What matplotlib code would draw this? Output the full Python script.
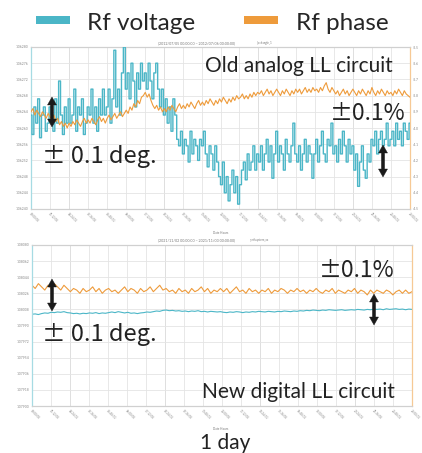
import numpy as np
import matplotlib
matplotlib.use("Agg")
import matplotlib.pyplot as plt
from matplotlib.patches import Rectangle, Polygon

plt.rcParams['font.family'] = ['Lato', 'DejaVu Sans']

W, H = 422, 453
CYAN = '#4bb6c7'
ORANGE = '#ee9b3b'

# ---------------- data (grid units, 0 = bottom gridline, 10 = top) ----------------
series_names = ['Rf voltage', 'Rf phase']

old_voltage = [
    5.8, 4.6, 6.3, 5.3, 6.8, 4.4, 5.8, 6.3, 4.8, 5.3,
    6.3, 5.8, 4.8, 6.8, 5.3, 7.9, 5.8, 4.6, 6.3, 5.3,
    6.8, 5.3, 5.8, 7.4, 4.8, 6.3, 5.8, 6.8, 4.6, 5.3,
    6.3, 5.8, 7.4, 5.3, 6.3, 4.8, 6.8, 5.8, 7.4, 5.8,
    6.3, 7.4, 5.3, 6.8, 9.8, 6.3, 7.4, 5.8, 8.4, 10.0,
    7.4, 8.4, 6.8, 9.0, 7.9, 6.3, 8.4, 7.4, 9.0, 7.9,
    8.4, 7.4, 9.0, 7.9, 6.8, 8.4, 9.0, 7.4, 6.3, 7.4,
    5.8, 6.8, 5.3, 6.3, 4.8, 6.8, 5.8, 4.3, 3.9, 4.8,
    3.4, 4.3, 3.9, 2.9, 4.8, 3.4, 4.3, 3.9, 3.0, 4.3,
    3.9, 4.8, 3.4, 2.6, 3.9, 3.4, 2.4, 3.9, 2.9, 2.0,
    1.5, 2.9, 1.0, 2.0, 0.5, 1.5, 2.4, 1.0, 2.0, 0.3,
    1.5, 2.4, 2.9, 1.8, 3.4, 2.4, 2.9, 3.9, 2.4, 3.4,
    2.9, 3.9, 2.4, 3.4, 4.3, 2.9, 3.9, 1.9, 3.4, 4.8,
    2.9, 3.9, 3.4, 2.4, 4.3, 3.4, 2.9, 3.9, 5.3, 3.4,
    2.9, 3.9, 2.4, 3.4, 4.3, 2.9, 3.9, 3.4, 1.9, 3.4,
    4.3, 2.9, 3.9, 4.8, 3.4, 2.9, 4.3, 3.9, 5.3, 3.4,
    3.9, 2.9, 4.3, 3.4, 4.8, 3.9, 2.9, 4.3, 3.4, 3.9,
    2.4, 3.4, 1.4, 2.9, 3.9, 2.4, 1.9, 3.4, 2.9, 4.3,
    3.9, 4.8, 3.4, 4.3, 4.8, 3.9, 4.3, 5.3, 3.9, 4.3,
    4.8, 3.9, 5.3, 4.3, 4.8, 3.9, 5.3, 4.8, 4.3, 5.3,
]

old_phase = [
    6.0, 6.2, 5.8, 6.1, 5.9, 5.7, 6.0, 5.8, 5.6, 5.9,
    5.7, 5.5, 5.8, 5.4, 5.6, 5.2, 5.4, 5.1, 5.3, 5.0,
    5.3, 5.1, 5.4, 5.2, 5.5, 5.3, 5.1, 5.4, 5.6, 5.3,
    5.5, 5.3, 5.6, 5.4, 5.2, 5.5, 5.7, 5.4, 5.6, 5.3,
    5.6, 5.8, 5.5, 5.7, 5.9, 5.6, 5.8, 6.0, 5.7, 5.9,
    6.1, 5.9, 6.3, 6.1, 6.5, 6.3, 6.7, 6.5, 6.9, 7.0,
    7.2, 6.9, 7.1, 6.7, 6.4, 6.2, 6.4, 6.1, 6.3, 6.0,
    6.2, 6.0, 6.3, 6.1, 6.4, 6.2, 6.0, 6.3, 6.5, 6.2,
    6.4, 6.2, 6.5, 6.3, 6.6, 6.4, 6.2, 6.5, 6.7, 6.4,
    6.6, 6.4, 6.7, 6.5, 6.8, 6.6, 6.4, 6.7, 6.5, 6.8,
    6.6, 6.9, 6.7, 6.5, 6.8, 6.6, 6.9, 6.7, 7.0, 6.8,
    6.9, 7.1, 6.8, 7.0, 6.8, 7.1, 6.9, 7.2, 7.0, 7.2,
    7.1, 7.3, 7.0, 7.2, 7.4, 7.1, 7.3, 7.0, 7.2, 7.4,
    7.2, 7.0, 7.3, 7.1, 7.4, 7.2, 7.0, 7.3, 7.1, 7.4,
    7.2, 7.4, 7.1, 7.3, 7.5, 7.2, 7.4, 7.2, 7.5, 7.3,
    7.4, 7.2, 7.5, 7.3, 7.6, 7.8, 7.4, 7.2, 7.5, 7.3,
    7.1, 7.3, 7.0, 7.2, 7.4, 7.1, 7.3, 7.0, 7.2, 7.4,
    7.2, 7.0, 7.3, 7.1, 7.4, 7.2, 7.0, 7.3, 7.1, 7.5,
    7.2, 7.0, 7.3, 7.1, 7.4, 7.2, 7.0, 7.3, 7.1, 7.2,
    7.0, 7.3, 7.1, 7.4, 7.2, 7.0, 7.3, 7.1, 7.0, 6.9,
]

new_phase = [
    7.5, 7.3, 7.6, 7.4, 7.2, 7.5, 7.3, 7.6, 7.4, 7.2, 7.5, 7.3,
    7.1, 7.3, 7.2, 7.0, 7.3, 7.1, 7.2, 7.4, 7.1, 7.3, 7.0, 7.2,
    7.3, 7.1, 7.2, 7.0, 7.2, 7.4, 7.1, 7.3, 7.2, 7.0, 7.3, 7.1,
    7.2, 7.4, 7.1, 7.3, 7.5, 7.2, 7.3, 7.1, 7.2, 7.0, 7.3, 7.1,
    7.2, 7.0, 7.3, 7.1, 7.2, 7.4, 7.1, 7.3, 7.0, 7.2, 7.1, 7.3,
    7.1, 7.3, 7.0, 7.2, 7.4, 7.1, 7.2, 7.0, 7.3, 7.1, 7.2, 7.0,
    7.2, 7.1, 7.3, 7.0, 7.2, 7.1, 7.3, 7.2, 7.0, 7.2, 7.1, 7.3,
    7.1, 7.2, 7.0, 7.2, 7.1, 7.3, 7.1, 7.0, 7.2, 7.1, 7.3, 7.0,
    7.2, 7.1, 7.0, 7.2, 7.1, 7.3, 7.0, 7.2, 7.1, 6.9, 7.2, 7.0,
    7.2, 7.1, 7.0, 7.2, 7.1, 6.9, 7.1, 7.2, 7.0, 7.2, 7.0, 7.1,
]

new_voltage = [
    5.70, 5.72, 5.68, 5.74, 5.78, 5.76, 5.82, 5.80, 5.84, 5.82, 5.86, 5.80,
    5.78, 5.74, 5.76, 5.72, 5.76, 5.74, 5.78, 5.76, 5.80, 5.74, 5.78, 5.76,
    5.80, 5.84, 5.80, 5.86, 5.82, 5.78, 5.82, 5.76, 5.78, 5.74, 5.78, 5.80,
    5.84, 5.82, 5.86, 5.90, 5.88, 5.94, 5.96, 5.92, 5.94, 5.90, 5.92, 5.88,
    5.90, 5.86, 5.90, 5.88, 5.92, 5.86, 5.88, 5.84, 5.88, 5.86, 5.84, 5.86,
    5.82, 5.80, 5.84, 5.82, 5.86, 5.84, 5.80, 5.84, 5.82, 5.86, 5.84, 5.88,
    5.86, 5.84, 5.88, 5.86, 5.84, 5.88, 5.86, 5.90, 5.88, 5.86, 5.90, 5.88,
    5.92, 5.90, 5.94, 5.92, 5.96, 5.94, 5.92, 5.96, 5.94, 5.98, 5.96, 5.94,
    5.96, 5.98, 5.94, 5.96, 5.98, 5.96, 6.00, 5.98, 5.96, 6.00, 5.98, 6.02,
    6.00, 6.02, 5.98, 6.04, 6.00, 6.02, 6.04, 6.00, 6.02, 5.98, 6.02, 6.00,
]

xticklabels = ['%02d:%02d:00' % divmod(k * 72, 60) for k in range(21)]
old_left_ticks = ['1.06240', '1.06244', '1.06248', '1.06252', '1.06256', '1.06260',
                  '1.06264', '1.06268', '1.06272', '1.06276', '1.06280']
old_right_ticks = ['-4.5', '-4.4', '-4.3', '-4.2', '-4.1', '-4.0',
                   '-3.9', '-3.8', '-3.7', '-3.6', '-3.5']
new_left_ticks = ['1.07900', '1.07918', '1.07936', '1.07954', '1.07972', '1.07990',
                  '1.08008', '1.08026', '1.08044', '1.08062', '1.08080']
old_title = '(2012/07/05 00:00:00 ~ 2012/07/06 00:00:00)'
new_title = '(2021/11/02 00:00:00 ~ 2021/11/03 00:00:00)'

# ---------------- figure ----------------
fig = plt.figure(figsize=(W / 100, H / 100), dpi=100)
fig.patch.set_facecolor('white')

def fx(px):
    return px / W

def fy(py):
    return 1 - py / H

def style_axes(ax, xlabels, ylabels, rlabels=None):
    ax.set_xlim(0, 20)
    ax.set_ylim(0, 10)
    ax.set_xticks(range(21))
    ax.set_yticks(range(11))
    ax.set_xticklabels(xlabels, rotation=-45, ha='left', va='top',
                       rotation_mode='anchor', fontsize=2.2, color='#888888')
    ax.set_yticklabels(ylabels, fontsize=2.4, color='#888888')
    ax.tick_params(length=0, pad=2)
    ax.grid(True, color='#e4e4e4', lw=0.6)
    for k in (2, 7, 12, 17):
        ax.axvline(k, color='#cacaca', lw=0.7, zorder=0.5)
    ax.set_axisbelow(True)
    ax.spines['left'].set_color('#a6dbe3')
    ax.spines['right'].set_color('#f6c995')
    ax.spines['top'].set_color('#d0d0d0')
    ax.spines['bottom'].set_color('#d0d0d0')
    for s in ax.spines.values():
        s.set_linewidth(0.9)
    if rlabels is not None:
        ax2 = ax.twinx()
        ax2.set_ylim(0, 10)
        ax2.set_yticks(range(11))
        ax2.set_yticklabels(rlabels, fontsize=2.4, color='#888888')
        ax2.tick_params(length=0, pad=2)
        for s in ax2.spines.values():
            s.set_visible(False)

# top panel (old)
ax1 = fig.add_axes([fx(31), fy(209), fx(410) - fx(31), fy(47) - fy(209)])
ax1.plot(np.linspace(0, 20, len(old_voltage)), old_voltage, color=CYAN,
         lw=1.0, drawstyle='steps-mid', snap=False, zorder=3)
ax1.plot(np.linspace(0, 20, len(old_phase)), old_phase, color=ORANGE, lw=0.8, zorder=4)
style_axes(ax1, xticklabels, old_left_ticks, old_right_ticks)

# bottom panel (new)
ax3 = fig.add_axes([fx(32), fy(406), fx(412) - fx(32), fy(245) - fy(406)])
ax3.plot(np.linspace(0, 20, len(new_voltage)), new_voltage, color=CYAN, lw=0.8)
ax3.plot(np.linspace(0, 20, len(new_phase)), new_phase, color=ORANGE, lw=0.8)
style_axes(ax3, xticklabels, new_left_ticks)

# tiny titles / axis labels
fig.text(fx(158), fy(43), old_title, fontsize=2.6, color='#777777', va='center')
fig.text(fx(257), fy(43), '_lockangle_1', fontsize=2.0, color='#777777', va='center')
fig.text(fx(158), fy(240), new_title, fontsize=2.6, color='#777777', va='center')
fig.text(fx(250), fy(240), '_sethsystem_xx', fontsize=2.0, color='#777777', va='center')
fig.text(fx(213), fy(233), 'Date Hours', fontsize=2.2, color='#777777', va='center')
fig.text(fx(213), fy(429), 'Date Hours', fontsize=2.2, color='#777777', va='center')

# legend
fig.add_artist(Rectangle((fx(36), fy(24)), fx(70) - fx(36), fy(16) - fy(24),
                         transform=fig.transFigure, color=CYAN, lw=0))
fig.add_artist(Rectangle((fx(244), fy(24)), fx(278) - fx(244), fy(16) - fy(24),
                         transform=fig.transFigure, color=ORANGE, lw=0))
fig.text(fx(87), fy(29.5), series_names[0], fontsize=17.5, color='#262626', va='baseline')
fig.text(fx(296), fy(29.5), series_names[1], fontsize=17.5, color='#262626', va='baseline')

# annotations
TXT = '#222222'
def label(px, py, s, size=15, ha='left', family=None):
    kw = {} if family is None else {'family': family}
    fig.text(fx(px), fy(py), s, fontsize=size, color=TXT, ha=ha, va='baseline', **kw)

PM = ['Noto Sans CJK JP', 'DejaVu Sans']
label(205, 72, 'Old analog LL circuit')
label(330, 120, '\u00b10.1%', size=16.5, family=PM)
label(42, 163, '\u00b1 0.1 deg.', size=17, family=PM)
label(42, 341, '\u00b1 0.1 deg.', size=17, family=PM)
label(319, 277, '\u00b10.1%', size=16.5, family=PM)
label(202, 398, 'New digital LL circuit')
label(200, 449, '1 day')

def darrow(px, py0, py1, sw=1.6, hw=4.5, hl=8):
    pts = [(px, py0), (px + hw, py0 + hl), (px + sw, py0 + hl),
           (px + sw, py1 - hl), (px + hw, py1 - hl), (px, py1),
           (px - hw, py1 - hl), (px - sw, py1 - hl), (px - sw, py0 + hl),
           (px - hw, py0 + hl)]
    poly = Polygon([(fx(a), fy(b)) for a, b in pts], closed=True,
                   transform=fig.transFigure, facecolor='#1a1a1a',
                   edgecolor='#1a1a1a', lw=0.3)
    fig.add_artist(poly)

darrow(52, 97, 127)
darrow(383, 145, 177)
darrow(52, 279, 311)
darrow(374, 294, 325)

fig.savefig('out.png', dpi=100)
